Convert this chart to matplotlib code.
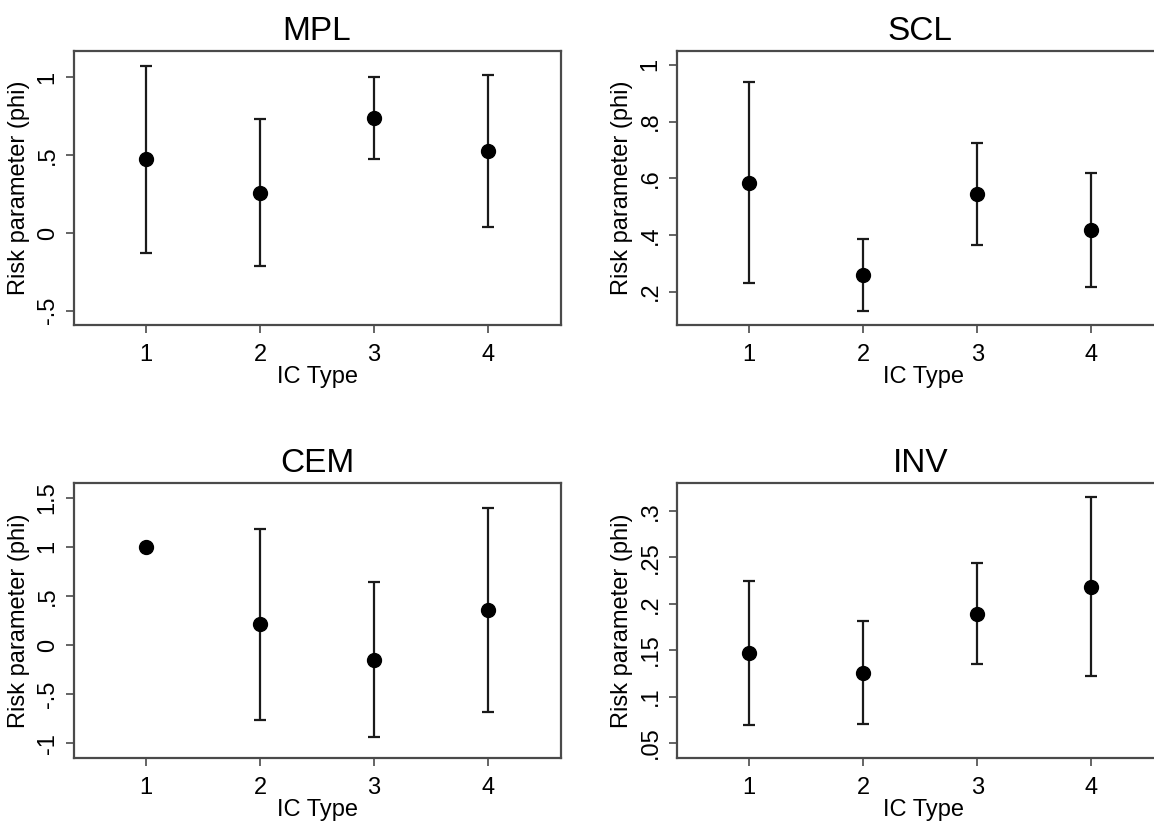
import matplotlib
matplotlib.use("Agg")
import matplotlib.pyplot as plt

plt.rcParams['font.family'] = ['Liberation Sans', 'DejaVu Sans']

ic_types = [1, 2, 3, 4]

panel_titles = ["MPL", "SCL", "CEM", "INV"]

mpl_est = [0.473, 0.254, 0.737, 0.528]
mpl_lo = [-0.129, -0.214, 0.477, 0.041]
mpl_hi = [1.075, 0.730, 1.000, 1.015]

scl_est = [0.585, 0.259, 0.545, 0.418]
scl_lo = [0.231, 0.133, 0.365, 0.215]
scl_hi = [0.940, 0.386, 0.726, 0.619]

# CEM type 1 has no confidence interval
cem_est = [1.000, 0.210, -0.149, 0.353]
cem_lo = [None, -0.760, -0.933, -0.685]
cem_hi = [None, 1.184, 0.638, 1.394]

inv_est = [0.1468, 0.1252, 0.1892, 0.218]
inv_lo = [0.0691, 0.0702, 0.1349, 0.1216]
inv_hi = [0.2248, 0.181, 0.2443, 0.3144]

mpl_yticks = [-0.5, 0, 0.5, 1]
mpl_yticklabels = ["-.5", "0", ".5", "1"]
scl_yticks = [0.2, 0.4, 0.6, 0.8, 1.0]
scl_yticklabels = [".2", ".4", ".6", ".8", "1"]
cem_yticks = [-1, -0.5, 0, 0.5, 1, 1.5]
cem_yticklabels = ["-1", "-.5", "0", ".5", "1", "1.5"]
inv_yticks = [0.05, 0.1, 0.15, 0.2, 0.25, 0.3]
inv_yticklabels = [".05", ".1", ".15", ".2", ".25", ".3"]

xlabel = "IC Type"
ylabel = "Risk parameter (phi)"

W, H = 1154, 824
fig = plt.figure(figsize=(W / 100, H / 100), dpi=100)

def px_rect(x0, y0, x1, y1):
    return [x0 / W, 1 - y1 / H, (x1 - x0) / W, (y1 - y0) / H]

panels = [
    dict(rect=px_rect(74, 51, 561, 325), xlim=(0.370, 4.639), ylim=(-0.592, 1.17),
         est=mpl_est, lo=mpl_lo, hi=mpl_hi, yt=mpl_yticks, ytl=mpl_yticklabels,
         title=panel_titles[0]),
    dict(rect=px_rect(677, 51, 1170, 325), xlim=(0.368, 4.69), ylim=(0.0824, 1.049),
         est=scl_est, lo=scl_lo, hi=scl_hi, yt=scl_yticks, ytl=scl_yticklabels,
         title=panel_titles[1]),
    dict(rect=px_rect(74, 483, 561, 758), xlim=(0.370, 4.639), ylim=(-1.15, 1.65),
         est=cem_est, lo=cem_lo, hi=cem_hi, yt=cem_yticks, ytl=cem_yticklabels,
         title=panel_titles[2]),
    dict(rect=px_rect(677, 483, 1170, 758), xlim=(0.368, 4.69), ylim=(0.0338, 0.330),
         est=inv_est, lo=inv_lo, hi=inv_hi, yt=inv_yticks, ytl=inv_yticklabels,
         title=panel_titles[3]),
]

spine_color = "#4a4a4a"
for p in panels:
    ax = fig.add_axes(p["rect"])
    ax.set_xlim(*p["xlim"])
    ax.set_ylim(*p["ylim"])
    for x, e, lo, hi in zip(ic_types, p["est"], p["lo"], p["hi"]):
        if lo is not None:
            ax.errorbar([x], [e], yerr=[[e - lo], [hi - e]], fmt="none",
                        ecolor="#1a1a1a", elinewidth=1.6, capsize=4, capthick=1.6)
    ax.plot(ic_types, p["est"], "o", color="black", markersize=10, linestyle="none")
    ax.set_xticks(ic_types)
    ax.set_xticklabels([str(v) for v in ic_types])
    ax.set_yticks(p["yt"])
    ax.set_yticklabels(p["ytl"], rotation=90, va="center")
    ax.tick_params(axis="both", direction="out", length=6, width=1.2,
                   color=spine_color, labelsize=17, pad=5)
    ax.tick_params(axis="x", pad=8)
    for s in ax.spines.values():
        s.set_color(spine_color)
        s.set_linewidth(1.6)
    ax.set_xlabel(xlabel, fontsize=17, labelpad=0)
    ax.set_ylabel(ylabel, fontsize=17, labelpad=5)
    ax.text(2.5, 1.0 + 4 / (p["rect"][3] * H), p["title"],
            transform=ax.get_xaxis_transform(),
            ha="center", va="bottom", fontsize=24)

fig.savefig("out.png", dpi=100)
